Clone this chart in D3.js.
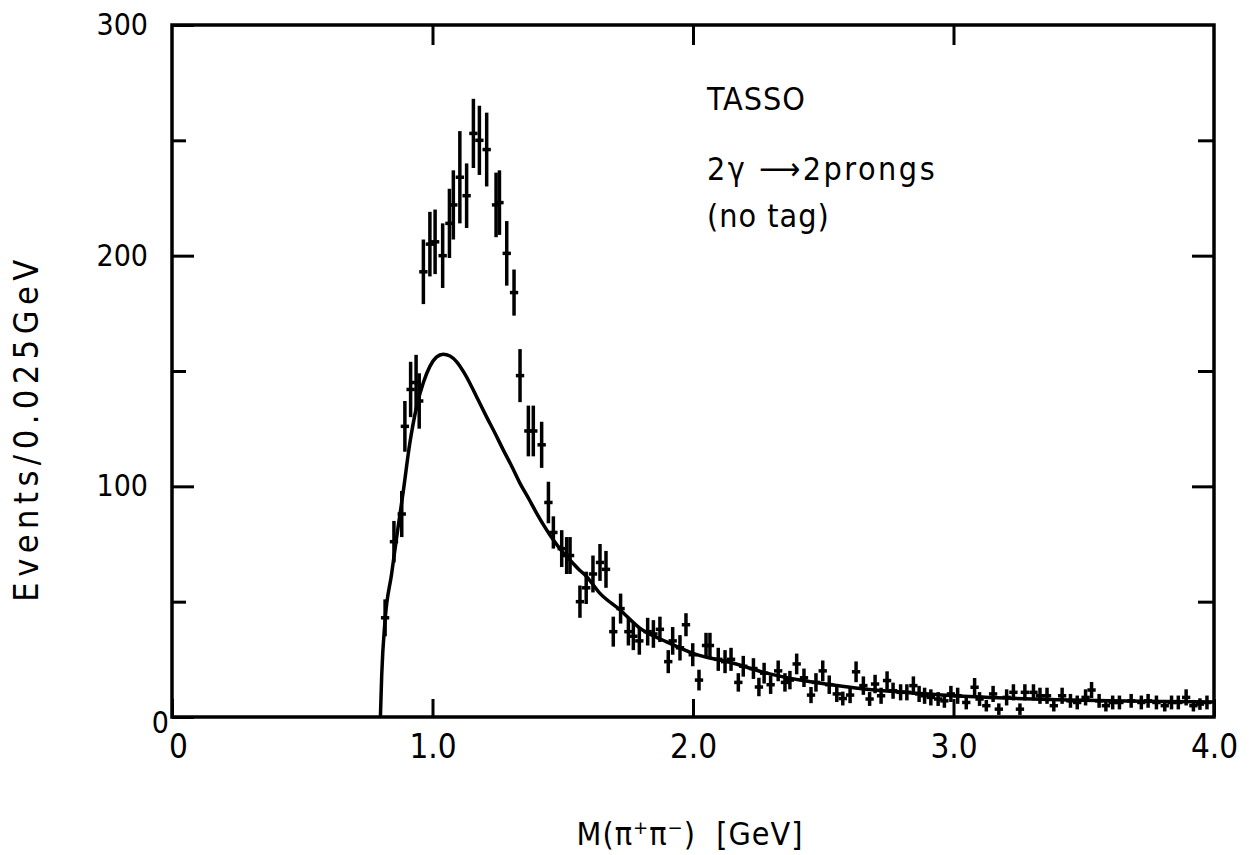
<!DOCTYPE html>
<html>
<head>
<meta charset="utf-8">
<script src="https://cdn.jsdelivr.net/npm/d3@7"></script>
<style>
  html, body { margin: 0; padding: 0; background: #fff; }
  svg { display: block; }
  text { font-family: "DejaVu Sans Condensed", "DejaVu Sans", sans-serif; font-stretch: condensed; fill: #000; }
  .tick line { stroke: #000; stroke-width: 3; }
</style>
</head>
<body>
<div id="chart"></div>
<script>
// pi+pi- invariant mass spectrum, 2 gamma -> 2 prongs (TASSO, no tag)

// data points: mass (GeV), events / 0.025 GeV, error
const massGeV = [0.818, 0.852, 0.882, 0.894, 0.916, 0.937, 0.949, 0.965, 0.99, 1.01,
  1.039, 1.065, 1.08, 1.105, 1.131, 1.157, 1.18, 1.208, 1.244, 1.257,
  1.285, 1.313, 1.336, 1.368, 1.387, 1.419, 1.445, 1.464, 1.496, 1.515,
  1.528, 1.566, 1.59, 1.616, 1.643, 1.666, 1.694, 1.722, 1.752, 1.771,
  1.794, 1.826, 1.848, 1.873, 1.905, 1.922, 1.95, 1.973, 1.999, 2.023,
  2.05, 2.065, 2.097, 2.123, 2.146, 2.174, 2.193, 2.232, 2.253, 2.273,
  2.298, 2.327, 2.353, 2.372, 2.398, 2.426, 2.453, 2.472, 2.498, 2.523,
  2.552, 2.575, 2.603, 2.626, 2.654, 2.678, 2.699, 2.722, 2.745, 2.768,
  2.797, 2.821, 2.846, 2.868, 2.889, 2.913, 2.941, 2.965, 2.99, 3.016,
  3.049, 3.081, 3.10, 3.126, 3.152, 3.174, 3.204, 3.23, 3.255, 3.274,
  3.307, 3.332, 3.359, 3.385, 3.417, 3.449, 3.475, 3.507, 3.53, 3.559,
  3.585, 3.611, 3.637, 3.682, 3.721, 3.747, 3.779, 3.811, 3.837, 3.863,
  3.893, 3.921, 3.946, 3.973];

const events = [43, 76, 88, 126, 142, 145, 137, 193, 205, 206,
  200, 214, 222, 234, 226, 253, 250, 246, 222, 223,
  201, 184, 148, 124, 124, 118, 93, 80, 73, 70,
  70, 50, 56, 62, 67, 64, 37, 47, 37, 35,
  33, 37, 36, 38, 24, 33, 30, 40, 27, 16,
  31, 31, 25, 24, 25, 15, 22, 21, 13, 19,
  14, 20, 15, 16, 23, 17, 9.5, 15, 20, 14,
  10, 8, 9.5, 19.6, 13.6, 7.8, 14.3, 9.2, 15.8, 11.4,
  10.7, 10.7, 13.6, 10, 9.2, 8.5, 7.8, 7, 10, 9.2,
  6.3, 12.9, 7.8, 4.9, 10, 3.4, 8.5, 10.7, 3.4, 10.7,
  10.7, 9.2, 9.2, 4.9, 9.2, 7, 6.3, 8.5, 11.7, 7,
  4.9, 6.3, 6.3, 7, 6.3, 7, 6.3, 4.9, 6.3, 6.3,
  8.5, 4.9, 5.6, 6.3];

const errors = [8, 9, 10, 11, 12, 12, 12, 14, 14, 14,
  14, 15, 15, 20, 14, 15, 15, 16, 14, 14,
  14, 10, 11.5, 11, 11, 10, 9, 7, 8, 8,
  8, 7, 7, 8, 8, 8, 6.5, 6.5, 6, 6,
  6, 6, 6, 5.5, 5, 6, 5.5, 5, 5, 4.5,
  5.5, 5.5, 5, 5, 5, 4, 4.5, 4.5, 4, 4.5,
  4, 4.5, 4, 4, 4.5, 4, 3.5, 4, 4.5, 4,
  3.5, 3, 3.5, 4.5, 4, 3, 4, 3.5, 4, 3.5,
  3.5, 3.5, 4, 3.5, 3.5, 3.5, 3, 3, 3.5, 3.5,
  3, 4, 3, 2.5, 3.5, 2.5, 3.5, 3.5, 2.5, 3.5,
  3.5, 3.5, 3.5, 2.5, 3.5, 3, 3, 3.5, 3.5, 3,
  2.5, 3, 3, 3, 3, 3, 3, 2.5, 3, 3,
  3.5, 2.5, 2.5, 3];

// fitted curve: [mass, events]
const fitCurve = [[0.80, 0], [0.805, 18], [0.818, 42], [0.843, 62], [0.865, 80], [0.888, 98],
  [0.912, 118], [0.939, 134.5], [0.965, 145], [0.99, 152], [1.015, 156], [1.041, 157.3],
  [1.067, 156.5], [1.093, 154], [1.12, 149.5], [1.144, 144.6], [1.175, 137.5], [1.208, 130],
  [1.24, 123], [1.272, 115.7], [1.305, 108.5], [1.336, 101.3], [1.37, 94.5], [1.40, 88.3],
  [1.432, 82.2], [1.464, 76.7], [1.496, 72], [1.528, 68], [1.56, 64.2], [1.592, 60.8],
  [1.643, 53.6], [1.72, 46.4], [1.797, 38.4], [1.899, 32.6], [2.0, 27.6], [2.155, 23.3],
  [2.283, 19], [2.41, 16], [2.539, 13.9], [2.641, 12.4], [2.8, 10.8], [3.0, 9.2],
  [3.2, 8.2], [3.4, 7.5], [3.6, 7.0], [3.8, 6.7], [4.0, 6.5]];

const xTicks = [0, 1, 2, 3, 4];
const xTickLabels = ["0", "1.0", "2.0", "3.0", "4.0"];
const yTicks = [0, 100, 200, 300];
const yMinorTicks = [50, 150, 250];
const legendLines = ["TASSO", "2γ \u27F62prongs", "(no tag)"];
const legendBaselines = [110, 180, 227];

const W = 1256, H = 855;
const svg = d3.select("#chart").append("svg").attr("width", W).attr("height", H);
svg.append("rect").attr("width", W).attr("height", H).attr("fill", "#fff");

const x = d3.scaleLinear().domain([0, 4]).range([172, 1214]);
const y = d3.scaleLinear().domain([0, 300]).range([717, 25]);

// axes: ticks point inwards, labels only left and bottom
const left = svg.append("g").attr("transform", `translate(${x(0)},0)`)
  .call(d3.axisLeft(y).tickValues(yTicks).tickSize(-22).tickPadding(24).tickFormat(d3.format("d")));
svg.append("g").attr("transform", `translate(${x(0)},0)`)
  .call(d3.axisLeft(y).tickValues(yMinorTicks).tickSize(-14).tickFormat(""));
const bottom = svg.append("g").attr("transform", `translate(0,${y(0)})`)
  .call(d3.axisBottom(x).tickValues(xTicks).tickSize(-18).tickPadding(18)
    .tickFormat((d, i) => xTickLabels[i]));
svg.append("g").attr("transform", `translate(${x(4)},0)`)
  .call(d3.axisRight(y).tickValues([100, 200]).tickSize(-22).tickFormat(""));
svg.append("g").attr("transform", `translate(${x(4)},0)`)
  .call(d3.axisRight(y).tickValues(yMinorTicks).tickSize(-16).tickFormat(""));
svg.append("g").attr("transform", `translate(0,${y(300)})`)
  .call(d3.axisTop(x).tickValues([1, 2, 3]).tickSize(-20).tickFormat(""));

svg.selectAll(".domain").remove();
left.selectAll("text").attr("font-size", 30);
// the "0" sits tight against the corner in the original
left.selectAll("text").filter(d => d === 0).attr("x", -3).attr("dy", "0.5em");
bottom.selectAll("text").attr("font-size", 33);
bottom.selectAll("text").filter(d => d === 0).attr("dx", 6);

// frame
svg.append("rect")
  .attr("x", x(0)).attr("y", y(300))
  .attr("width", x(4) - x(0)).attr("height", y(0) - y(300))
  .attr("fill", "none").attr("stroke", "#000").attr("stroke-width", 3.5);

// fitted curve
svg.append("path")
  .datum(fitCurve)
  .attr("fill", "none").attr("stroke", "#000").attr("stroke-width", 3.5)
  .attr("d", d3.line().x(d => x(d[0])).y(d => y(d[1])).curve(d3.curveMonotoneX));

// data points with error bars
const pts = massGeV.map((m, i) => ({m, v: events[i], e: errors[i]}));
const pg = svg.append("g").attr("stroke", "#000").attr("stroke-width", 3.5);
pg.selectAll("line.v").data(pts).join("line").attr("class", "v")
  .attr("x1", d => x(d.m)).attr("x2", d => x(d.m))
  .attr("y1", d => y(Math.max(0, d.v - d.e))).attr("y2", d => y(d.v + d.e));
pg.selectAll("line.h").data(pts).join("line").attr("class", "h")
  .attr("x1", d => x(d.m - 0.016)).attr("x2", d => x(d.m + 0.016))
  .attr("y1", d => y(d.v)).attr("y2", d => y(d.v));

// axis titles
svg.append("text")
  .attr("transform", `translate(38,428) rotate(-90)`)
  .attr("text-anchor", "middle").attr("font-size", 34).attr("letter-spacing", 5.5)
  .text("Events/0.025GeV");
svg.append("text")
  .attr("x", 690).attr("y", 845).attr("text-anchor", "middle").attr("font-size", 32)
  .attr("letter-spacing", 1)
  .attr("xml:space", "preserve")
  .text("M(π\u207Aπ\u207B)  [GeV]");

// legend text
svg.append("g").selectAll("text").data(legendLines).join("text")
  .attr("x", 707).attr("y", (d, i) => legendBaselines[i])
  .attr("font-size", 32).attr("letter-spacing", (d, i) => i === 1 ? 2.5 : 1)
  .text(d => d);
</script>
</body>
</html>
